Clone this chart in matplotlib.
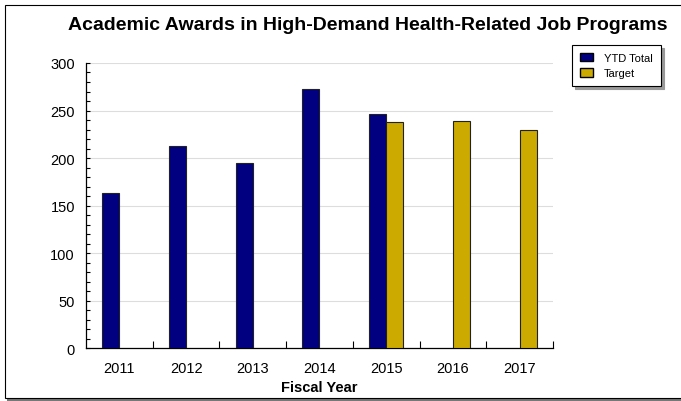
import numpy as np
import matplotlib.pyplot as plt
from matplotlib.patches import Rectangle, Patch
from matplotlib.ticker import MultipleLocator, FixedLocator

years = ['2011', '2012', '2013', '2014', '2015', '2016', '2017']
ytd_total = [163, 213, 195, 273, 246, np.nan, np.nan]
target = [np.nan, np.nan, np.nan, np.nan, 238, 239, 230]

plt.rcParams['font.family'] = ['Liberation Sans', 'DejaVu Sans']

fig = plt.figure(figsize=(6.81, 4.02), dpi=100)
ax = fig.add_axes([0.1263, 0.1318, 0.812 - 0.1263, 0.8408 - 0.1318])

# outer frame with shadow
fig.patches.append(Rectangle((7 / 681, 0), 1, 1 - 8 / 402, transform=fig.transFigure,
                             facecolor='#777777', edgecolor='none', zorder=-2))
fig.patches.append(Rectangle((5 / 681, 3 / 402), 1.1, 1 - 9 / 402, transform=fig.transFigure,
                             facecolor='white', edgecolor='black', linewidth=0.8, zorder=-1))

x = np.arange(len(years))
w = 0.255
ax.bar(x - w / 2, ytd_total, w, color='#000080', edgecolor='#222222', linewidth=0.8,
       label='YTD Total', zorder=3)
ax.bar(x + w / 2, target, w, color='#CCAA00', edgecolor='#222222', linewidth=0.8,
       label='Target', zorder=3)

ax.set_xlim(-0.5, 6.5)
ax.set_ylim(0, 300)
ax.set_xticks(x)
ax.set_xticklabels(years, fontsize=10.5)
ax.xaxis.set_minor_locator(FixedLocator(np.arange(0.5, 6.6, 1)))
ax.tick_params(axis='x', which='major', length=0, pad=9)
ax.tick_params(axis='x', which='minor', direction='in', length=5, width=0.8)
ax.yaxis.set_major_locator(MultipleLocator(50))
ax.yaxis.set_minor_locator(MultipleLocator(10))
ax.tick_params(axis='y', which='both', direction='in', length=3, width=0.8,
               labelsize=10.5, pad=8)
ax.grid(axis='y', color='#dddddd', linewidth=0.8, zorder=0)
for s in ['top', 'right']:
    ax.spines[s].set_visible(False)
for s in ['left', 'bottom']:
    ax.spines[s].set_linewidth(0.9)
ax.set_xlabel('Fiscal Year', fontsize=10.5, fontweight='bold', labelpad=4)

fig.text(368 / 681, 1 - 26 / 402, 'Academic Awards in High-Demand Health-Related Job Programs',
         ha='center', va='center', fontsize=14, fontweight='bold')

handles = [Patch(facecolor='#000080', edgecolor='black', label='YTD Total'),
           Patch(facecolor='#CCAA00', edgecolor='black', label='Target')]
leg = fig.legend(handles=handles, loc='upper left', bbox_to_anchor=(572 / 681, 1 - 46 / 402),
                 prop={'size': 8}, frameon=True, fancybox=False,
                 shadow={'color': '#999999', 'alpha': 1},
                 edgecolor='black', handlelength=1.2, handleheight=0.75, handletextpad=1.0,
                 borderpad=0.7, labelspacing=0.5, borderaxespad=0)
leg.get_frame().set_linewidth(0.8)

fig.savefig('out.png', dpi=100)
